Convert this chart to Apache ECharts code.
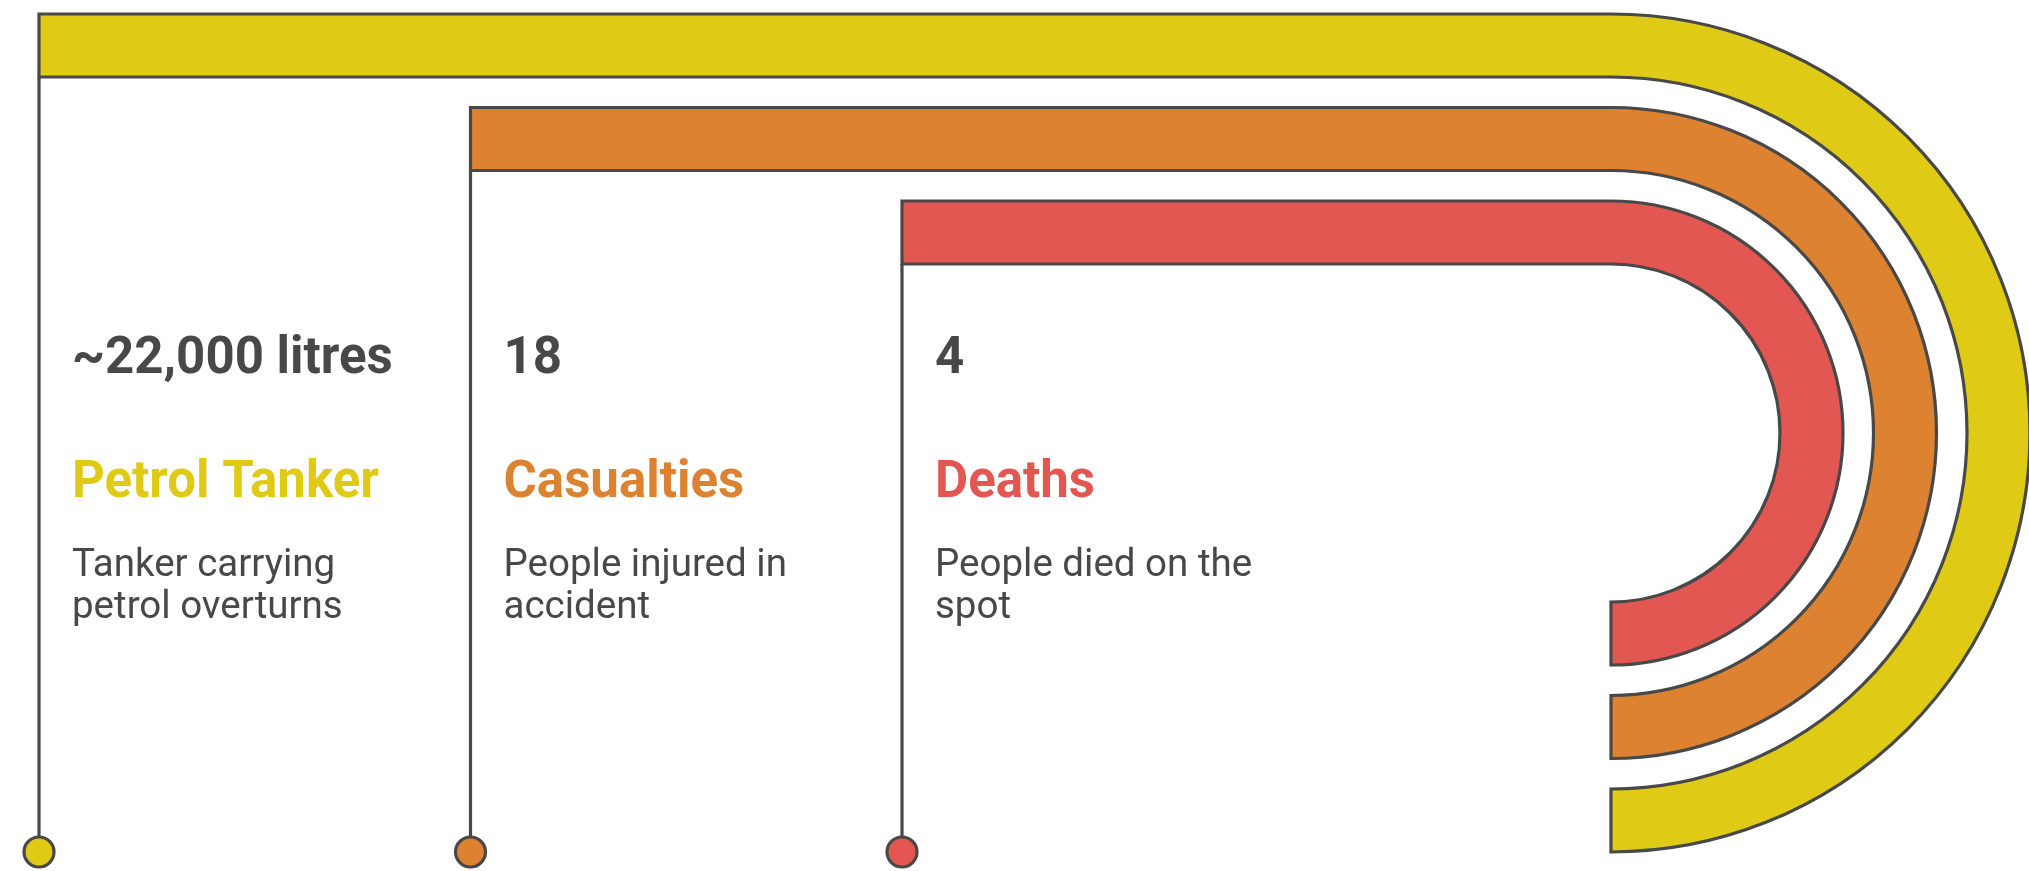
<!DOCTYPE html>
<html><head><meta charset="utf-8">
<script src="https://cdn.jsdelivr.net/npm/echarts@6/dist/echarts.min.js"></script>
<style>html,body{margin:0;padding:0;background:#fff}#c{width:2029px;height:871px}</style>
</head><body><div id="c"></div>
<script>
// ---- data ----
const categories = ['Petrol Tanker', 'Casualties', 'Deaths'];
const values = ['~22,000 litres', '18', '4'];
const descriptions = [
  ['Tanker carrying', 'petrol overturns'],
  ['People injured in', 'accident'],
  ['People died on the', 'spot']
];
// ---- styles ----
const palette = ['#dfcb15', '#dc8230', '#e35753'];
const ink = '#484848';

echarts.graphic.registerShape('bandArc', echarts.graphic.extendShape({
  shape: { x0: 0, top: 0, cx: 0, cy: 0, R: 0, r: 0 },
  buildPath: function (ctx, s) {
    ctx.moveTo(s.x0, s.top);
    ctx.lineTo(s.cx, s.top);
    ctx.arc(s.cx, s.cy, s.R, -Math.PI / 2, Math.PI / 2, false);
    ctx.lineTo(s.cx, s.cy + s.r);
    ctx.arc(s.cx, s.cy, s.r, Math.PI / 2, -Math.PI / 2, true);
    ctx.lineTo(s.x0, s.cy - s.r);
    ctx.closePath();
  }
}));

// layout in stage units (axis units = pixels of the 2029x871 stage)
const L = { x0: 39, dx: 431.5, top: 14, dtop: 93.5, thick: 63, cx: 1611, cy: 433, dotY: 852, dotR: 15, textDx: 33 };

function renderItem(params, api) {
  const i = api.value(0);
  const c = palette[i];
  const x0 = L.x0 + i * L.dx;
  const top = L.top + i * L.dtop;
  const R = L.cy - top;
  const r = R - L.thick;
  const pTop = api.coord([x0, top]);
  const pC = api.coord([L.cx, L.cy]);
  const sz = api.size([1, 1]);
  const Rp = R * sz[1], rp = r * sz[1];
  const pBot = api.coord([x0, top + L.thick]);
  const pDot = api.coord([x0, L.dotY]);
  const tx = api.coord([x0 + L.textDx, 0])[0];
  const font = 'Roboto';
  return {
    type: 'group',
    children: [
      {
        type: 'line',
        shape: { x1: pBot[0], y1: pBot[1], x2: pDot[0], y2: pDot[1] - L.dotR },
        style: { stroke: ink, lineWidth: 3.2 }
      },
      {
        type: 'circle',
        shape: { cx: pDot[0], cy: pDot[1], r: L.dotR },
        style: { fill: c, stroke: ink, lineWidth: 3.2 }
      },
      {
        type: 'bandArc',
        shape: { x0: pTop[0], top: pTop[1], cx: pC[0], cy: pC[1], R: Rp, r: rp },
        style: { fill: c, stroke: ink, lineWidth: 3.2, lineJoin: 'miter' }
      },
      {
        type: 'text',
        x: tx, y: api.coord([0, 360])[1],
        style: { text: values[i], fill: ink, font: 'bold 51px ' + font, verticalAlign: 'middle', align: 'left' }
      },
      {
        type: 'text',
        x: tx, y: api.coord([0, 484])[1],
        style: { text: categories[i], fill: c, font: 'bold 51px ' + font, verticalAlign: 'middle', align: 'left' }
      },
      {
        type: 'text',
        x: tx, y: api.coord([0, 545])[1],
        style: { text: descriptions[i].join('\n'), fill: ink, font: '38.5px ' + font, lineHeight: 42, verticalAlign: 'top', align: 'left' }
      }
    ]
  };
}

const chart = echarts.init(document.getElementById('c'), null, { renderer: 'canvas' });
chart.setOption({
  animation: false,
  backgroundColor: '#ffffff',
  grid: { left: 0, right: 0, top: 0, bottom: 0 },
  xAxis: { type: 'value', min: 0, max: 2029, show: false },
  yAxis: { type: 'value', min: 0, max: 871, inverse: true, show: false },
  series: [{
    type: 'custom',
    renderItem: renderItem,
    clip: false,
    data: categories.map((_, i) => [i]),
    encode: { x: -1, y: -1 }
  }]
});
</script></body></html>
